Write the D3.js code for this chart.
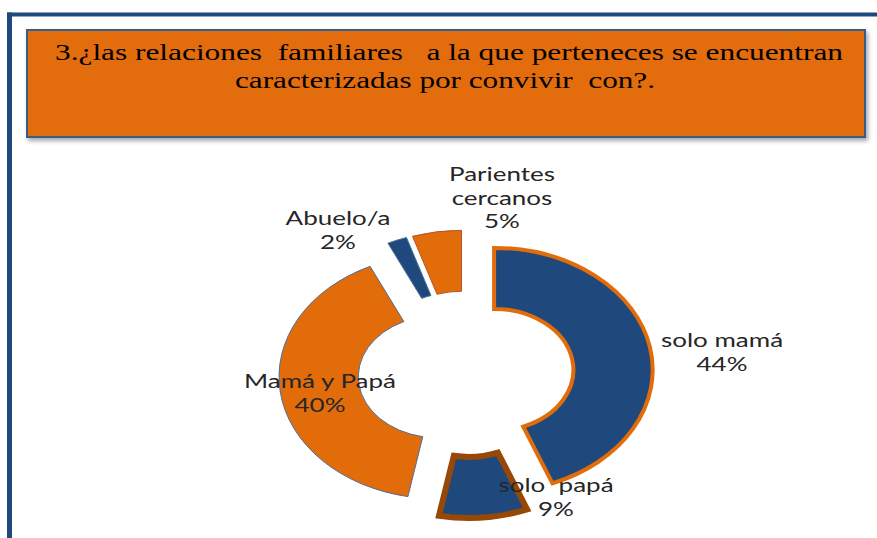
<!DOCTYPE html>
<html>
<head>
<meta charset="utf-8">
<script src="https://cdn.jsdelivr.net/npm/d3@7"></script>
<style>
  html, body { margin: 0; padding: 0; background: #fff; }
  svg { display: block; }
  text { white-space: pre; }
</style>
</head>
<body>
<svg id="chart"></svg>
<script>
// data
const categories = ['solo mamá', 'solo  papá', 'Mamá y Papá', 'Abuelo/a', 'Parientes cercanos'];
const values = [44, 9, 40, 2, 5];
const titleLines = [
  '3.¿las relaciones  familiares   a la que perteneces se encuentran',
  'caracterizadas por convivir  con?.'
];

const W = 877, H = 538;
const svg = d3.select('#chart')
    .attr('width', W)
    .attr('height', H);

const blue = '#1F497D';
const orange = '#E36C0A';

// outer frame (top and left only)
svg.append('line')
    .attr('x1', 7).attr('y1', 14.5).attr('x2', W).attr('y2', 14.5)
    .attr('stroke', blue).attr('stroke-width', 4);
svg.append('line')
    .attr('x1', 9.5).attr('y1', 12.5).attr('x2', 9.5).attr('y2', H)
    .attr('stroke', blue).attr('stroke-width', 5);

// title box with soft shadow
const defs = svg.append('defs');
const f = defs.append('filter').attr('id', 'shadow')
    .attr('x', '-5%').attr('y', '-10%').attr('width', '110%').attr('height', '130%');
f.append('feDropShadow')
    .attr('dx', 2).attr('dy', 3).attr('stdDeviation', 2)
    .attr('flood-color', '#000').attr('flood-opacity', 0.35);

svg.append('rect')
    .attr('x', 27).attr('y', 30)
    .attr('width', 838).attr('height', 107)
    .attr('fill', orange)
    .attr('stroke', '#385D8A').attr('stroke-width', 2)
    .attr('filter', 'url(#shadow)');

const titleFit = [{ cx: 449, y: 60, w: 788 }, { cx: 445, y: 88, w: 420 }];
svg.selectAll('text.title')
  .data(titleLines)
  .join('text')
    .attr('class', 'title')
    .attr('x', (d, i) => titleFit[i].cx)
    .attr('y', (d, i) => titleFit[i].y)
    .attr('text-anchor', 'middle')
    .attr('textLength', (d, i) => titleFit[i].w)
    .attr('lengthAdjust', 'spacingAndGlyphs')
    .style('font-family', '"Liberation Serif", "Times New Roman", serif')
    .style('font-size', '24px')
    .attr('fill', '#000')
    .text(d => d);

// exploded doughnut, stretched horizontally like the original picture
const sx = 1.3;
const cx = 466, cy = 374;
const outerR = 122, innerR = 61, explode = 22;

const pie = d3.pie().sort(null).value(d => d);
const arc = d3.arc().innerRadius(innerR).outerRadius(outerR);
const slices = pie(values);

const fills = [blue, blue, orange, blue, orange];
const strokes = [orange, '#974706', '#4F6D96', '#4F6D96', '#B0562A'];
const strokeW = [4, 6, 1, 1, 1];

const g = svg.append('g')
    .attr('transform', `translate(${cx},${cy}) scale(${sx},1)`);

g.selectAll('path')
  .data(slices)
  .join('path')
    .attr('transform', d => {
      const a = (d.startAngle + d.endAngle) / 2;
      return `translate(${explode * Math.sin(a)},${-explode * Math.cos(a)})`;
    })
    .attr('d', arc)
    .attr('fill', (d, i) => fills[i])
    .attr('stroke', (d, i) => strokes[i])
    .attr('stroke-width', (d, i) => strokeW[i])
    .attr('stroke-linejoin', 'miter')
    .attr('vector-effect', 'non-scaling-stroke');

// data labels (name + percent), placed as in the original
const labelAt = [
  { x: 722, y: 347 },
  { x: 556, y: 492 },
  { x: 320, y: 388 },
  { x: 338, y: 225 },
  { x: 502, y: 181 }
];
const lineGap = 23.5;

const labels = svg.selectAll('g.label')
  .data(slices)
  .join('g')
    .attr('class', 'label');

labels.each(function(d, i) {
  const name = categories[i];
  const lines = name === 'Parientes cercanos' ? ['Parientes', 'cercanos'] : [name];
  lines.push(values[i] + '%');
  d3.select(this).selectAll('text')
    .data(lines)
    .join('text')
      .attr('transform', (t, j) =>
        `translate(${labelAt[i].x},${labelAt[i].y + j * lineGap}) scale(${sx},1)`)
      .attr('text-anchor', 'middle')
      .style('font-family', 'Lato, "Open Sans", sans-serif')
      .style('font-size', '20px')
      .attr('fill', '#262626')
      .text(t => t);
});
</script>
</body>
</html>
